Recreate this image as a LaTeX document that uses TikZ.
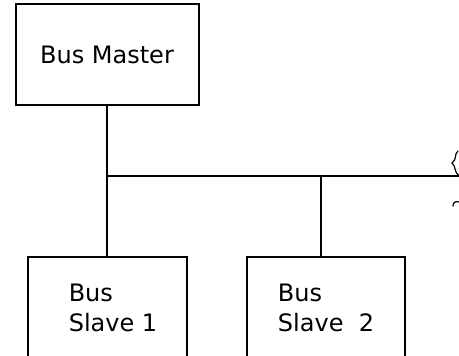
\documentclass[tikz,border=0pt]{standalone}
\usepackage{fontspec}
\setmainfont{DejaVu Sans}
\tikzset{
  unit/.style={draw, line width=2pt, minimum width=183pt, minimum height=101pt,
    font=\fontsize{24}{30}\selectfont},
  slave/.style={unit, minimum width=159pt},
  caption/.style={font=\fontsize{24}{30}\selectfont, align=left},
  wire/.style={line width=1.2pt},
  scrawl/.style={line width=1.2pt, line cap=round}
}
\begin{document}
\begin{tikzpicture}[x=1pt,y=-1pt]
  \clip (0,0) rectangle (459,356);
  % units on the bus
  \node[unit] (master) at (107,54.5) {Bus Master};
  \node[slave] (slave1) at (107,307.5) {};
  \node[slave, minimum width=158pt] (slave2) at (326,307.5) {};
  \node[caption] (slave1text) at ([xshift=6pt]slave1.center) {Bus\\Slave 1};
  \node[caption] (slave2text) at (slave2.center) {Bus\\Slave\ \ 2};
  % bus line
  \coordinate (busend) at (459,176);
  \coordinate (tap1) at (master.south |- busend);
  \coordinate (tap2) at (321,176);
  \draw[wire] (master.south) -- (slave1.north);
  \draw[wire] (tap1) -- (busend);
  \draw[wire] (tap2) -- (tap2 |- slave2.north);
  % break mark at the right edge
  \draw[scrawl] (458,151) .. controls (454,154) and (457,160) .. (452,163)
    .. controls (456,166) and (454,172) .. (459,176);
  \draw[scrawl] (453,206) .. controls (453,202) and (456,201) .. (459,202);
\end{tikzpicture}
\end{document}
